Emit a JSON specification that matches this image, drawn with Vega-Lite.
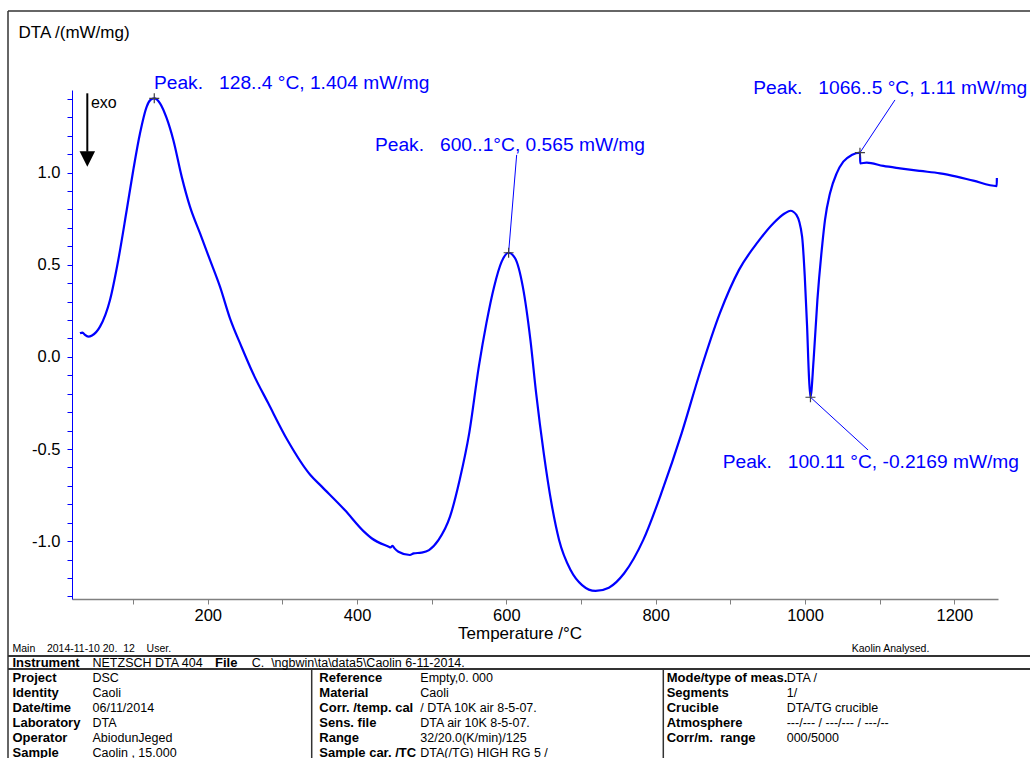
{
  "$schema": "https://vega.github.io/schema/vega-lite/v6.json",
  "width": 926,
  "height": 509,
  "autosize": "none",
  "padding": {"left": 72, "top": 90, "right": 32, "bottom": 159},
  "background": "white",
  "config": {
    "view": {"stroke": null},
    "font": "Liberation Sans",
    "axis": {"labelFont": "Liberation Sans", "titleFont": "Liberation Sans"},
    "text": {"font": "Liberation Sans"}
  },
  "datasets": {
    "curve": [
      {"T": 28.9, "DTA": 0.128}, {"T": 32.3, "DTA": 0.132}, {"T": 35.6, "DTA": 0.119}, {"T": 40.0, "DTA": 0.110},
      {"T": 45.0, "DTA": 0.116}, {"T": 55.7, "DTA": 0.164}, {"T": 69.1, "DTA": 0.309}, {"T": 80.2, "DTA": 0.526},
      {"T": 91.5, "DTA": 0.797}, {"T": 100.3, "DTA": 1.014}, {"T": 109.3, "DTA": 1.213}, {"T": 118.3, "DTA": 1.358},
      {"T": 123.3, "DTA": 1.394}, {"T": 128.4, "DTA": 1.403}, {"T": 136.1, "DTA": 1.376}, {"T": 145.0, "DTA": 1.295},
      {"T": 153.9, "DTA": 1.177}, {"T": 165.1, "DTA": 0.978}, {"T": 176.2, "DTA": 0.815}, {"T": 189.6, "DTA": 0.671},
      {"T": 203.0, "DTA": 0.526}, {"T": 216.4, "DTA": 0.381}, {"T": 229.8, "DTA": 0.209}, {"T": 245.2, "DTA": 0.055},
      {"T": 260.6, "DTA": -0.089}, {"T": 281.1, "DTA": -0.252}, {"T": 306.7, "DTA": -0.451}, {"T": 337.5, "DTA": -0.641},
      {"T": 352.8, "DTA": -0.704}, {"T": 383.6, "DTA": -0.831}, {"T": 409.3, "DTA": -0.948}, {"T": 419.5, "DTA": -0.984},
      {"T": 442.5, "DTA": -1.030}, {"T": 444.8, "DTA": -1.034}, {"T": 447.5, "DTA": -1.025}, {"T": 450.2, "DTA": -1.039},
      {"T": 455.4, "DTA": -1.057}, {"T": 470.8, "DTA": -1.075}, {"T": 475.9, "DTA": -1.066}, {"T": 486.2, "DTA": -1.062},
      {"T": 496.4, "DTA": -1.048}, {"T": 509.2, "DTA": -0.993}, {"T": 524.5, "DTA": -0.867}, {"T": 537.4, "DTA": -0.668},
      {"T": 550.2, "DTA": -0.415}, {"T": 563.1, "DTA": -0.053}, {"T": 573.2, "DTA": 0.182}, {"T": 583.6, "DTA": 0.381},
      {"T": 593.7, "DTA": 0.517}, {"T": 603.0, "DTA": 0.565}, {"T": 611.7, "DTA": 0.535}, {"T": 622.0, "DTA": 0.381},
      {"T": 632.2, "DTA": 0.092}, {"T": 639.9, "DTA": -0.198}, {"T": 650.1, "DTA": -0.523}, {"T": 660.4, "DTA": -0.794},
      {"T": 670.6, "DTA": -0.993}, {"T": 686.0, "DTA": -1.156}, {"T": 701.4, "DTA": -1.238}, {"T": 719.4, "DTA": -1.270},
      {"T": 737.3, "DTA": -1.252}, {"T": 757.8, "DTA": -1.174}, {"T": 783.4, "DTA": -0.993}, {"T": 809.1, "DTA": -0.722},
      {"T": 834.7, "DTA": -0.415}, {"T": 860.3, "DTA": -0.071}, {"T": 886.0, "DTA": 0.237}, {"T": 911.6, "DTA": 0.472},
      {"T": 937.2, "DTA": 0.625}, {"T": 957.7, "DTA": 0.725}, {"T": 973.1, "DTA": 0.779}, {"T": 980.6, "DTA": 0.793},
      {"T": 988.5, "DTA": 0.770}, {"T": 996.1, "DTA": 0.652}, {"T": 999.7, "DTA": 0.435}, {"T": 1002.8, "DTA": 0.164},
      {"T": 1005.3, "DTA": -0.107}, {"T": 1007.3, "DTA": -0.219}, {"T": 1011.5, "DTA": -0.017}, {"T": 1016.6, "DTA": 0.309},
      {"T": 1023.3, "DTA": 0.616}, {"T": 1026.8, "DTA": 0.743}, {"T": 1033.5, "DTA": 0.888}, {"T": 1042.4, "DTA": 0.996},
      {"T": 1051.3, "DTA": 1.059}, {"T": 1062.5, "DTA": 1.095}, {"T": 1073.6, "DTA": 1.108}, {"T": 1074.0, "DTA": 1.050},
      {"T": 1082.6, "DTA": 1.054}, {"T": 1104.9, "DTA": 1.036}, {"T": 1127.2, "DTA": 1.023}, {"T": 1154.0, "DTA": 1.009},
      {"T": 1180.8, "DTA": 0.996}, {"T": 1203.2, "DTA": 0.978}, {"T": 1225.4, "DTA": 0.956}, {"T": 1256.8, "DTA": 0.927},
      {"T": 1257.0, "DTA": 0.971}
    ],
    "peaks": [
      {"T": 128.4, "DTA": 1.403}, {"T": 603.0, "DTA": 0.565}, {"T": 1007.3, "DTA": -0.219}, {"T": 1073.6, "DTA": 1.108}
    ],
    "labels": [
      {"T": 128.0, "DTA": 1.451, "label": "Peak.\u00a0\u00a0\u00a0128..4 °C, 1.404 mW/mg"},
      {"T": 424.0, "DTA": 1.117, "label": "Peak.\u00a0\u00a0\u00a0600..1°C, 0.565 mW/mg"},
      {"T": 930.7, "DTA": 1.425, "label": "Peak.\u00a0\u00a0\u00a01066..5 °C, 1.11 mW/mg"},
      {"T": 889.7, "DTA": -0.604, "label": "Peak.\u00a0\u00a0\u00a0100.11 °C, -0.2169 mW/mg"}
    ],
    "leaders": [
      {"T": 603.0, "DTA": 0.565, "T2": 613.8, "DTA2": 1.096},
      {"T": 1073.6, "DTA": 1.108, "T2": 1120.5, "DTA2": 1.394},
      {"T": 1007.3, "DTA": -0.219, "T2": 1084.4, "DTA2": -0.505}
    ],
    "arrow": [{"T": 38.7, "DTA": 1.43, "DTA2": 1.113}],
    "arrowhead": [{"T": 38.7, "DTA": 1.073}],
    "exo": [{"T": 43.6, "DTA": 1.35, "label": "exo"}],
    "footer": [
      {"section": "note", "line": 0, "label": "Main\u00a0\u00a0\u00a0 2014-11-10 20.\u00a0 12\u00a0\u00a0\u00a0 User.", "value": "Kaolin Analysed."},
      {"section": "head", "line": 1, "label": "Instrument", "value": "NETZSCH DTA 404"},
      {"section": "file", "line": 1, "label": "File", "value": "C.\u00a0 \\ngbwin\\ta\\data5\\Caolin 6-11-2014."},
      {"section": "left", "line": 2, "label": "Project", "value": "DSC"},
      {"section": "left", "line": 3, "label": "Identity", "value": "Caoli"},
      {"section": "left", "line": 4, "label": "Date/time", "value": "06/11/2014"},
      {"section": "left", "line": 5, "label": "Laboratory", "value": "DTA"},
      {"section": "left", "line": 6, "label": "Operator", "value": "AbiodunJeged"},
      {"section": "left", "line": 7, "label": "Sample", "value": "Caolin , 15.000"},
      {"section": "middle", "line": 2, "label": "Reference", "value": "Empty,0. 000"},
      {"section": "middle", "line": 3, "label": "Material", "value": "Caoli"},
      {"section": "middle", "line": 4, "label": "Corr. /temp. cal", "value": "\u00a0/ DTA 10K air 8-5-07."},
      {"section": "middle", "line": 5, "label": "Sens. file", "value": "DTA air 10K 8-5-07."},
      {"section": "middle", "line": 6, "label": "Range", "value": "32/20.0(K/min)/125"},
      {"section": "middle", "line": 7, "label": "Sample car. /TC", "value": "DTA(/TG) HIGH RG 5 /"},
      {"section": "right", "line": 2, "label": "Mode/type of meas.", "value": "DTA /"},
      {"section": "right", "line": 3, "label": "Segments", "value": "1/"},
      {"section": "right", "line": 4, "label": "Crucible", "value": "DTA/TG crucible"},
      {"section": "right", "line": 5, "label": "Atmosphere", "value": "---/--- / ---/--- / ---/--"},
      {"section": "right", "line": 6, "label": "Corr/m.\u00a0 range", "value": "000/5000"}
    ]
  },
  "resolve": {"scale": {"x": "independent", "y": "independent"}},
  "layer": [
    {
      "encoding": {
        "x": {
          "field": "T",
          "type": "quantitative",
          "scale": {"domain": [18.2, 1258.5], "nice": false, "zero": false},
          "axis": {
            "title": "Temperature /°C",
            "values": [100, 200, 300, 400, 500, 600, 700, 800, 900, 1000, 1100, 1200],
            "format": "d",
            "labelExpr": "datum.value % 200 === 0 ? datum.label : ''",
            "labelOverlap": false,
            "labelFlush": false,
            "grid": false,
            "domainColor": "#808080",
            "domainWidth": 1.5,
            "tickColor": "#808080",
            "tickWidth": 1,
            "tickSize": 5,
            "labelColor": "black",
            "labelFontSize": 16.5,
            "labelPadding": 3,
            "titleFontSize": 17,
            "titleFontWeight": "normal",
            "titleColor": "black",
            "titleX": 447.5,
            "titleY": 39,
            "titleAlign": "center",
            "titleBaseline": "alphabetic",
            "encode": {"ticks": {"update": {"y2": {"signal": "datum.value % 200 === 0 ? 5 : 2.5"}}}}
          }
        },
        "y": {
          "field": "DTA",
          "type": "quantitative",
          "scale": {"domain": [-1.3136, 1.448], "nice": false, "zero": false},
          "axis": {
            "title": "DTA /(mW/mg)",
            "values": [-1.3, -1.2, -1.1, -1.0, -0.9, -0.8, -0.7, -0.6, -0.5, -0.4, -0.3, -0.2, -0.1, 0, 0.1, 0.2, 0.3, 0.4, 0.5, 0.6, 0.7, 0.8, 0.9, 1.0, 1.1, 1.2, 1.3, 1.4],
            "format": ".1f",
            "labelExpr": "abs(round(datum.value * 10)) % 5 === 0 ? replace(datum.label, '\u2212', '-') : ''",
            "labelOverlap": false,
            "labelFlush": false,
            "grid": false,
            "domainColor": "#0000ff",
            "domainWidth": 1,
            "tickColor": "#0000ff",
            "tickWidth": 1,
            "tickSize": 5,
            "labelColor": "black",
            "labelFontSize": 16.5,
            "labelPadding": 7,
            "titleAngle": 0,
            "titleAlign": "left",
            "titleBaseline": "alphabetic",
            "titleX": -54,
            "titleY": -52.5,
            "titleFontSize": 17,
            "titleFontWeight": "normal",
            "titleColor": "black",
            "encode": {"ticks": {"update": {"x2": {"signal": "abs(round(datum.value * 10)) % 5 === 0 ? -5 : -2.5"}}}}
          }
        }
      },
      "layer": [
        {
          "data": {"name": "curve"},
          "mark": {"type": "line", "color": "#0000ff", "strokeWidth": 2.2, "interpolate": "monotone"},
          "encoding": {}
        },
        {
          "data": {"name": "leaders"},
          "mark": {"type": "rule", "color": "#0000ff", "strokeWidth": 1},
          "encoding": {"x2": {"field": "T2"}, "y2": {"field": "DTA2"}}
        },
        {
          "data": {"name": "peaks"},
          "mark": {"type": "point", "shape": "M-1,0L1,0M0,-1L0,1", "size": 100, "filled": false, "color": "#404040", "strokeWidth": 1.2, "opacity": 1}
        },
        {
          "data": {"name": "labels"},
          "mark": {"type": "text", "align": "left", "baseline": "alphabetic", "fontSize": 19.2, "color": "#0000ff"},
          "encoding": {"text": {"field": "label"}}
        },
        {
          "data": {"name": "arrow"},
          "mark": {"type": "rule", "color": "black", "strokeWidth": 2},
          "encoding": {"y2": {"field": "DTA2"}}
        },
        {
          "data": {"name": "arrowhead"},
          "mark": {"type": "point", "shape": "M-1,-1L1,-1L0,1Z", "size": 240, "filled": true, "color": "black", "opacity": 1}
        },
        {
          "data": {"name": "exo"},
          "mark": {"type": "text", "align": "left", "baseline": "alphabetic", "fontSize": 16, "color": "black"},
          "encoding": {"text": {"field": "label"}}
        }
      ]
    },
    {
      "data": {"name": "footer"},
      "encoding": {
        "y": {"field": "line", "type": "quantitative", "scale": {"domain": [-37.433, -3.5], "nice": false, "zero": false, "reverse": true}, "axis": null}
      },
      "layer": [
        {
          "transform": [{"filter": "datum.line === 0"}],
          "mark": {"type": "rule", "color": "#333333", "strokeWidth": 1.5},
          "encoding": {
            "x": {"datum": 8, "type": "quantitative", "scale": {"domain": [72, 998], "nice": false, "zero": false}, "axis": null},
            "x2": {"datum": 1040},
            "y": {"datum": -42.7, "type": "quantitative", "scale": {"domain": [-37.433, -3.5], "nice": false, "zero": false, "reverse": true}, "axis": null}
          }
        },
        {
          "transform": [{"filter": "datum.line === 0"}],
          "mark": {"type": "rule", "color": "#333333", "strokeWidth": 1.5},
          "encoding": {
            "x": {"datum": 8, "type": "quantitative", "scale": {"domain": [72, 998], "nice": false, "zero": false}, "axis": null},
            "y": {"datum": -42.7, "type": "quantitative", "scale": {"domain": [-37.433, -3.5], "nice": false, "zero": false, "reverse": true}, "axis": null},
            "y2": {"datum": 9}
          }
        },
        {
          "transform": [{"filter": "datum.line === 0"}],
          "mark": {"type": "rule", "color": "#333333", "strokeWidth": 2},
          "encoding": {
            "x": {"datum": 8, "type": "quantitative", "scale": {"domain": [72, 998], "nice": false, "zero": false}, "axis": null},
            "x2": {"datum": 1040},
            "y": {"datum": 0.3, "type": "quantitative", "scale": {"domain": [-37.433, -3.5], "nice": false, "zero": false, "reverse": true}, "axis": null}
          }
        },
        {
          "transform": [{"filter": "datum.line === 0"}],
          "mark": {"type": "rule", "color": "#333333", "strokeWidth": 2},
          "encoding": {
            "x": {"datum": 8, "type": "quantitative", "scale": {"domain": [72, 998], "nice": false, "zero": false}, "axis": null},
            "x2": {"datum": 1040},
            "y": {"datum": 1.166, "type": "quantitative", "scale": {"domain": [-37.433, -3.5], "nice": false, "zero": false, "reverse": true}, "axis": null}
          }
        },
        {
          "transform": [{"filter": "datum.line === 0"}],
          "mark": {"type": "rule", "color": "#333333", "strokeWidth": 1.5},
          "encoding": {
            "x": {"datum": 311.7, "type": "quantitative", "scale": {"domain": [72, 998], "nice": false, "zero": false}, "axis": null},
            "y": {"datum": 1.166, "type": "quantitative", "scale": {"domain": [-37.433, -3.5], "nice": false, "zero": false, "reverse": true}, "axis": null},
            "y2": {"datum": 9}
          }
        },
        {
          "transform": [{"filter": "datum.line === 0"}],
          "mark": {"type": "rule", "color": "#333333", "strokeWidth": 1.5},
          "encoding": {
            "x": {"datum": 663.3, "type": "quantitative", "scale": {"domain": [72, 998], "nice": false, "zero": false}, "axis": null},
            "y": {"datum": 1.166, "type": "quantitative", "scale": {"domain": [-37.433, -3.5], "nice": false, "zero": false, "reverse": true}, "axis": null},
            "y2": {"datum": 9}
          }
        },
        {
          "transform": [{"filter": {"field": "section", "oneOf": ["note"]}}],
          "mark": {"type": "text", "align": "left", "baseline": "alphabetic", "fontSize": 10.5, "color": "black"},
          "encoding": {
            "x": {"datum": 12.5, "type": "quantitative", "scale": {"domain": [72, 998], "nice": false, "zero": false}, "axis": null},
            "text": {"field": "label"}
          }
        },
        {
          "transform": [{"filter": {"field": "section", "oneOf": ["note"]}}],
          "mark": {"type": "text", "align": "left", "baseline": "alphabetic", "fontSize": 10.5, "color": "black"},
          "encoding": {
            "x": {"datum": 851.7, "type": "quantitative", "scale": {"domain": [72, 998], "nice": false, "zero": false}, "axis": null},
            "text": {"field": "value"}
          }
        },
        {
          "transform": [{"filter": {"field": "section", "oneOf": ["head", "left"]}}],
          "mark": {"type": "text", "align": "left", "baseline": "alphabetic", "fontSize": 13, "fontWeight": "bold", "color": "black"},
          "encoding": {
            "x": {"datum": 12.5, "type": "quantitative", "scale": {"domain": [72, 998], "nice": false, "zero": false}, "axis": null},
            "text": {"field": "label"}
          }
        },
        {
          "transform": [{"filter": {"field": "section", "oneOf": ["head", "left"]}}],
          "mark": {"type": "text", "align": "left", "baseline": "alphabetic", "fontSize": 12.5, "color": "black"},
          "encoding": {
            "x": {"datum": 92.5, "type": "quantitative", "scale": {"domain": [72, 998], "nice": false, "zero": false}, "axis": null},
            "text": {"field": "value"}
          }
        },
        {
          "transform": [{"filter": {"field": "section", "oneOf": ["file"]}}],
          "mark": {"type": "text", "align": "left", "baseline": "alphabetic", "fontSize": 13, "fontWeight": "bold", "color": "black"},
          "encoding": {
            "x": {"datum": 215, "type": "quantitative", "scale": {"domain": [72, 998], "nice": false, "zero": false}, "axis": null},
            "text": {"field": "label"}
          }
        },
        {
          "transform": [{"filter": {"field": "section", "oneOf": ["file"]}}],
          "mark": {"type": "text", "align": "left", "baseline": "alphabetic", "fontSize": 12.5, "color": "black"},
          "encoding": {
            "x": {"datum": 251.7, "type": "quantitative", "scale": {"domain": [72, 998], "nice": false, "zero": false}, "axis": null},
            "text": {"field": "value"}
          }
        },
        {
          "transform": [{"filter": {"field": "section", "oneOf": ["middle"]}}],
          "mark": {"type": "text", "align": "left", "baseline": "alphabetic", "fontSize": 13, "fontWeight": "bold", "color": "black"},
          "encoding": {
            "x": {"datum": 319.3, "type": "quantitative", "scale": {"domain": [72, 998], "nice": false, "zero": false}, "axis": null},
            "text": {"field": "label"}
          }
        },
        {
          "transform": [{"filter": {"field": "section", "oneOf": ["middle"]}}],
          "mark": {"type": "text", "align": "left", "baseline": "alphabetic", "fontSize": 12.5, "color": "black"},
          "encoding": {
            "x": {"datum": 420.3, "type": "quantitative", "scale": {"domain": [72, 998], "nice": false, "zero": false}, "axis": null},
            "text": {"field": "value"}
          }
        },
        {
          "transform": [{"filter": {"field": "section", "oneOf": ["right"]}}],
          "mark": {"type": "text", "align": "left", "baseline": "alphabetic", "fontSize": 13, "fontWeight": "bold", "color": "black"},
          "encoding": {
            "x": {"datum": 666.7, "type": "quantitative", "scale": {"domain": [72, 998], "nice": false, "zero": false}, "axis": null},
            "text": {"field": "label"}
          }
        },
        {
          "transform": [{"filter": {"field": "section", "oneOf": ["right"]}}],
          "mark": {"type": "text", "align": "left", "baseline": "alphabetic", "fontSize": 12.5, "color": "black"},
          "encoding": {
            "x": {"datum": 786.7, "type": "quantitative", "scale": {"domain": [72, 998], "nice": false, "zero": false}, "axis": null},
            "text": {"field": "value"}
          }
        }
      ]
    }
  ]
}
